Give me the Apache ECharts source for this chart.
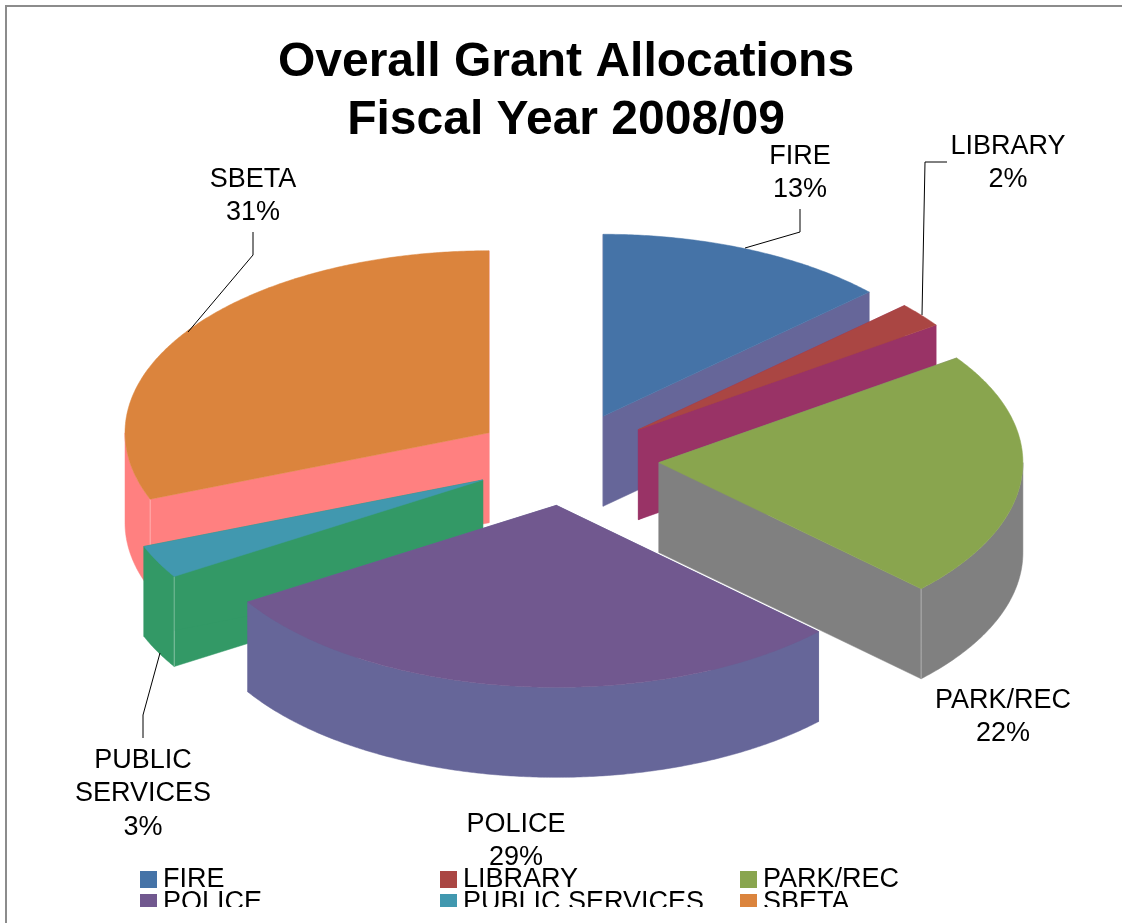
<!DOCTYPE html>
<html>
<head>
<meta charset="utf-8">
<style>html,body{margin:0;padding:0;background:#fff}#c{width:1122px;height:923px}</style>
<script src="https://cdn.jsdelivr.net/npm/echarts@6/dist/echarts.min.js"></script>
</head>
<body>
<div id="c"></div>
<script>
// ---- data ----
const categories = ['FIRE', 'LIBRARY', 'PARK/REC', 'POLICE', 'PUBLIC SERVICES', 'SBETA'];
const shares = [13.05, 2.2, 21.95, 28.9, 2.95, 30.95];
const labelNames = ['FIRE', 'LIBRARY', 'PARK/REC', 'POLICE', 'PUBLIC\nSERVICES', 'SBETA'];
const titleLines = ['Overall Grant Allocations', 'Fiscal Year 2008/09'];

// ---- style ----
const topColors = ['#4573A7', '#AA4643', '#89A54E', '#71588F', '#4198AF', '#DB843D'];
const sideColors = ['#666699', '#993366', '#808080', '#666699', '#339966', '#FF8080'];
const paintOrder = [5, 0, 1, 2, 4, 3];
const FONT = '"Liberation Sans", Arial, sans-serif';

// ---- pie projection ----
const pie = { cx: 566, cy: 459, rx: 364, ry: 182, depth: 90, explode: 0.256 };
const labelAnchors = [[800, 173], [1008, 163], [1003, 717], [516, 841], [143, 794], [253, 196]];
const leaders = [
  [[745, 248], [800, 232], [800, 209]],
  [[922, 315], [925, 162], [947, 162]],
  null,
  null,
  [[160, 653], [143, 715], [143, 738]],
  [[188, 332], [253, 255], [253, 232]]
];
const legendSlots = [[140, 866], [440, 866], [740, 866], [140, 889], [440, 889], [740, 889]];

const total = shares.reduce((a, b) => a + b, 0);
function sliceAngles(i) {
  let sum = 0;
  for (let k = 0; k < i; k++) sum += shares[k];
  return [sum / total * 360, (sum + shares[i]) / total * 360];
}
const rad = d => d * Math.PI / 180;

function makeSlice(i) {
  const [a0, a1] = sliceAngles(i);
  const mid = rad((a0 + a1) / 2);
  const ax = pie.cx + pie.explode * pie.rx * Math.sin(mid);
  const ay = pie.cy - pie.explode * pie.ry * Math.cos(mid);
  const onRim = d => [ax + pie.rx * Math.sin(rad(d)), ay - pie.ry * Math.cos(rad(d))];
  const down = p => [p[0], p[1] + pie.depth];
  const arc = (from, to) => {
    const pts = [];
    const n = Math.max(2, Math.ceil((to - from) / 0.5));
    for (let k = 0; k <= n; k++) pts.push(onRim(from + (to - from) * k / n));
    return pts;
  };
  const apex = [ax, ay];
  const kids = [];
  const poly = (points, fill) => kids.push({
    type: 'polygon', shape: { points: points }, style: { fill: fill, stroke: fill, lineWidth: 0.5 }
  });
  // cut faces
  [a0, a1].forEach(d => {
    const p = onRim(d);
    poly([apex, p, down(p), down(apex)], sideColors[i]);
  });
  // outer wall (front half only)
  const w0 = Math.max(a0, 90), w1 = Math.min(a1, 270);
  if (w1 > w0) {
    const rim = arc(w0, w1);
    poly(rim.concat(rim.slice().reverse().map(down)), sideColors[i]);
  }
  // seam between a visible cut face and the wall
  const seams = [];
  if (a0 > 180 && a0 < 270) seams.push(a0);
  if (a1 > 90 && a1 < 180) seams.push(a1);
  seams.forEach(d => {
    const p = onRim(d), q = down(p);
    kids.push({ type: 'line', shape: { x1: p[0], y1: p[1], x2: q[0], y2: q[1] },
      style: { stroke: 'rgba(255,255,255,0.35)', lineWidth: 1 } });
  });
  // top face
  poly([apex].concat(arc(a0, a1)), topColors[i]);
  // leader
  if (leaders[i]) {
    kids.push({ type: 'polyline', shape: { points: leaders[i] },
      style: { stroke: '#000', lineWidth: 1, fill: null } });
  }
  // label
  kids.push({
    type: 'text',
    style: {
      text: labelNames[i] + '\n' + Math.round(shares[i]) + '%',
      x: labelAnchors[i][0], y: labelAnchors[i][1],
      align: 'center', verticalAlign: 'middle',
      font: '27px ' + FONT, lineHeight: 33.5, fill: '#000'
    }
  });
  return { type: 'group', children: kids };
}

const series = categories.map((name, i) => ({
  type: 'custom',
  name: name,
  coordinateSystem: 'none',
  z: 2 + paintOrder.indexOf(i),
  silent: true,
  animation: false,
  itemStyle: { color: topColors[i] },
  data: [shares[i]],
  renderItem: () => makeSlice(i)
}));

const option = {
  backgroundColor: '#fff',
  animation: false,
  title: {
    text: titleLines.join('\n'),
    left: 561, top: 29, textAlign: 'center',
    textStyle: { fontFamily: FONT, fontWeight: 'bold', fontSize: 48, lineHeight: 58, color: '#000' }
  },
  legend: categories.map((name, i) => ({
    data: [name], left: legendSlots[i][0], top: legendSlots[i][1], padding: 0,
    icon: 'rect', itemWidth: 17, itemHeight: 17, itemGap: 0, selectedMode: false,
    textStyle: { fontFamily: FONT, fontSize: 27, color: '#000', padding: [0, 0, 0, 1] }
  })),
  graphic: [
    { type: 'rect', z: 100, silent: true, shape: { x: 7, y: 907, width: 1115, height: 16 }, style: { fill: '#fff' } },
    { type: 'polyline', z: 101, silent: true, shape: { points: [[6, 923], [6, 6], [1122, 6]] },
      style: { stroke: '#8c8c8c', lineWidth: 2, fill: null } }
  ],
  series: series
};
echarts.init(document.getElementById('c'), null, { renderer: 'canvas' }).setOption(option);
</script>
</body>
</html>
